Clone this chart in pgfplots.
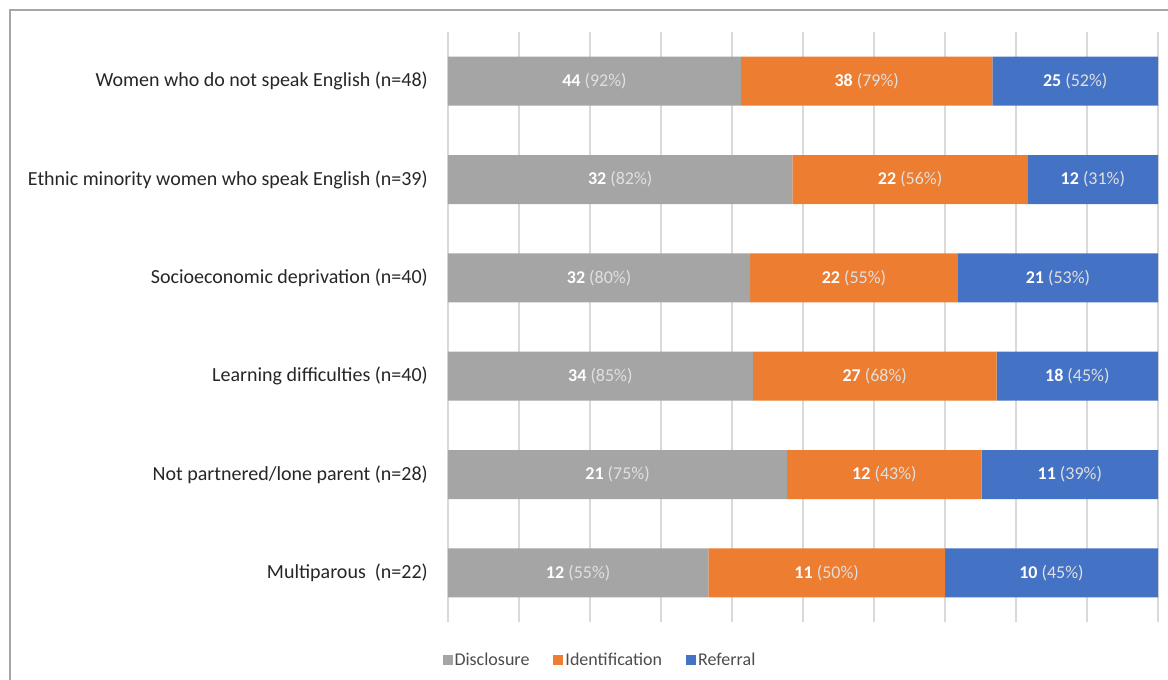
\documentclass[border=0pt]{standalone}
\usepackage{pgfplots}
\pgfplotsset{compat=1.18}
\usepackage{pgfplotstable}
\usepackage{fontspec}
\setmainfont{Carlito}

\definecolor{cDis}{HTML}{A5A5A5}
\definecolor{cIde}{HTML}{ED7D31}
\definecolor{cRef}{HTML}{4472C4}
\definecolor{gridc}{HTML}{D9D9D9}
\definecolor{framec}{HTML}{A6A6A6}

% counts and percentages per group; tot = sum of the three percentages (bars are 100% stacked)
\pgfplotstableread{
idx dn dp in ip rn rp tot
0 44 92 38 79 25 52 223
1 32 82 22 56 12 31 169
2 32 80 22 55 21 53 188
3 34 85 27 68 18 45 198
4 21 75 12 43 11 39 157
5 12 55 11 50 10 45 150
}\groups

\begin{document}
\begin{tikzpicture}
\useasboundingbox (0,0) rectangle (1168pt,680pt);
\draw[framec, line width=1.5pt] (10pt,-5pt) -- (10pt,670pt) -- (1175pt,670pt);
\begin{axis}[
    at={(448pt,58pt)}, anchor=south west,
    scale only axis, width=710pt, height=590pt,
    xbar stacked, bar width=49pt,
    xmin=0, xmax=100, ymin=-0.5, ymax=5.5, y dir=reverse,
    xtick={0,10,...,100}, xticklabels={},
    xmajorgrids, grid style={gridc, line width=1.2pt},
    major tick length=0pt,
    ytick={0,...,5},
    yticklabels={Women who do not speak English (n=48),
        Ethnic minority women who speak English (n=39),
        Socioeconomic deprivation (n=40),
        Learning difficulties (n=40),
        Not partnered/lone parent (n=28),
        Multiparous\ \ (n=22)},
    yticklabel style={font=\fontsize{20}{24}\selectfont, inner sep=0pt, xshift=-20pt, text=black!85},
    axis line style={draw=none},
    /pgf/number format/assume math mode=true,
    legend columns=-1,
    legend style={draw=none, fill=none, at={(0.214,-0.064)}, anchor=center,
        font=\fontsize{18}{22}\selectfont, text=black!70,
        /tikz/every even column/.append style={column sep=22pt}},
    legend image code/.code={\fill[#1,draw=none] (0pt,-5pt) rectangle (10pt,5pt);},
    nodes near coords={\textbf{\pgfmathprintnumber{\cnt}} {\color{white!88!black}(\pgfmathprintnumber{\pct}\%)}},
    every node near coord/.append style={anchor=center,
        font=\fontsize{18}{22}\selectfont, text=white},
]
\addplot[fill=cDis, draw=none,
    visualization depends on={\thisrow{dn} \as \cnt},
    visualization depends on={\thisrow{dp} \as \pct}]
    table[x expr=\thisrow{dp}/\thisrow{tot}*100, y=idx] {\groups};
\addplot[fill=cIde, draw=none,
    visualization depends on={\thisrow{in} \as \cnt},
    visualization depends on={\thisrow{ip} \as \pct}]
    table[x expr=\thisrow{ip}/\thisrow{tot}*100, y=idx] {\groups};
\addplot[fill=cRef, draw=none,
    visualization depends on={\thisrow{rn} \as \cnt},
    visualization depends on={\thisrow{rp} \as \pct}]
    table[x expr=\thisrow{rp}/\thisrow{tot}*100, y=idx] {\groups};
\legend{Disclosure, Identification, Referral}
\end{axis}
\end{tikzpicture}
\end{document}
